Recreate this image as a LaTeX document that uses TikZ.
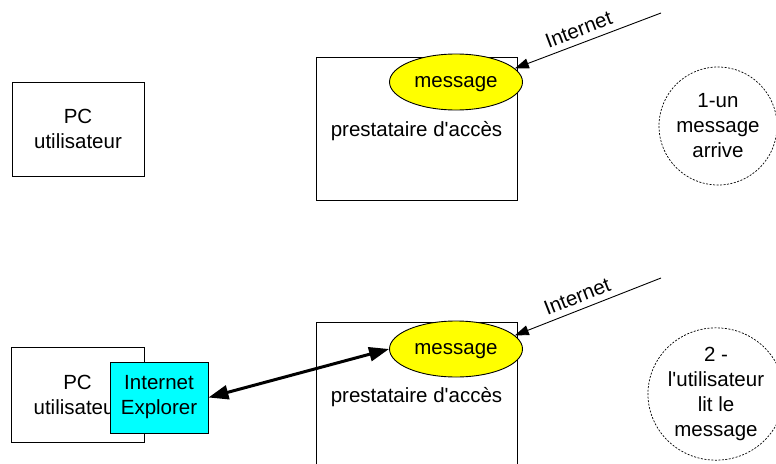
\documentclass[tikz,border=0pt]{standalone}
\usepackage{fontspec}
\setmainfont{Liberation Sans}
\usetikzlibrary{arrows.meta,shapes.geometric}
\definecolor{msgyellow}{RGB}{255,255,0}
\definecolor{iecyan}{RGB}{0,255,255}
\begin{document}
\begin{tikzpicture}[x=1pt,y=-1pt,
  every node/.style={font=\fontsize{20.5pt}{25pt}\selectfont, align=center, inner sep=0pt},
  box/.style={draw=black, line width=0.9pt, rectangle, fill=white},
  msg/.style={draw=black, line width=0.9pt, ellipse, fill=msgyellow, minimum width=133pt, minimum height=56pt, text depth=0pt},
  step note/.style={draw=black, line width=0.7pt, dash pattern=on 2pt off 1.5pt, ellipse},
  netline/.style={draw=black, line width=0.9pt, -{Triangle[length=14pt,width=10pt]}},
  readline/.style={draw=black, line width=3pt, {Triangle[length=20pt,width=14pt]}-{Triangle[length=20pt,width=14pt]}},
  netlabel/.style={sloped, above=6pt, font=\fontsize{20.5pt}{25pt}\selectfont}
]
\clip (0,0) rectangle (776,463);
\fill[white] (0,0) rectangle (776,463);

% ---------- top ----------
\node[box, minimum width=132pt, minimum height=94pt] (pc1) at (78,129) {PC\\utilisateur};
\node[box, minimum width=201pt, minimum height=143pt, text depth=0pt] (pa1) at (416.5,128.5) {prestataire d\textquotesingle accès};
\node[msg] (msg1) at (456,82) {message};
\coordinate (in1) at (661,13);
\draw[netline] (in1) -- node[netlabel, pos=0.53] {Internet} (msg1.13);
\node[step note, minimum width=118pt, minimum height=118pt] (note1) at (718,126) {1-un\\message\\arrive};

% ---------- bottom ----------
\node[box, minimum width=133pt, minimum height=95pt] (pc2) at (77.5,394.5) {PC\\utilisateur};
\node[box, fill=iecyan, minimum width=98pt, minimum height=71pt] (ie) at (159,397.5) {Internet\\Explorer};
\node[box, minimum width=201pt, minimum height=146pt, text depth=0pt] (pa2) at (416.5,395) {prestataire d\textquotesingle accès};
\node[msg] (msg2) at (456,349) {message};
\coordinate (in2) at (661,278);
\draw[netline] (in2) -- node[netlabel, pos=0.54] {Internet} (msg2.13);
\draw[readline] (ie.east) -- (msg2.west);
\node[step note, minimum width=120pt, minimum height=124pt] (note2) at (716,394) {2 -\\l\textquotesingle utilisateur\\lit le\\message};
\end{tikzpicture}
\end{document}
